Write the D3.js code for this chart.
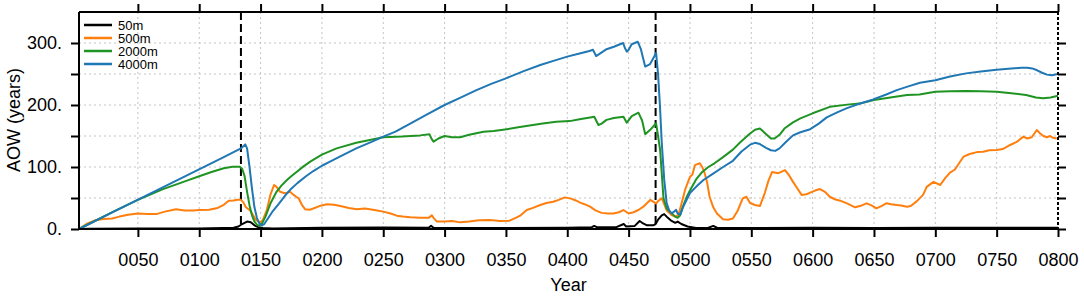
<!DOCTYPE html>
<html>
<head>
<meta charset="utf-8">
<script src="https://cdn.jsdelivr.net/npm/d3@7"></script>
<style>
  html, body { margin: 0; padding: 0; background: #fff; }
  svg { display: block; font-family: "Liberation Sans", Arial, sans-serif; }
</style>
</head>
<body>
<div id="chart"></div>
<script>
// ── AOW at four depths ──────────────────────────────────────────────────────
// Values (years, AOW in years).

const seriesNames = ['50m', '500m', '2000m', '4000m'];
const seriesColors = ['#000000', '#ff7f0e', '#1f9423', '#1f77b4'];

const years50 = [2, 10, 50, 100, 128, 132, 135, 139, 142, 145, 148, 152, 160, 200, 250, 287, 289, 291, 320, 350, 400, 420, 422, 424, 440, 446, 448, 455, 459, 461, 465, 470, 472, 474, 477, 479, 482, 485, 488, 490, 493, 498, 505, 515, 519, 522, 540, 600, 650, 700, 750, 800];
const aow50 = [0, 0.5, 0.8, 1, 2, 4, 8, 12, 11, 6, 3, 1.5, 1, 2, 2.5, 2, 5, 2, 1.5, 1.5, 2, 3, 5, 3, 3, 8, 4, 5, 13, 10, 6, 6, 8, 15, 22, 24, 18, 13, 10, 12, 8, 4, 1.5, 2, 5, 2, 1.5, 2, 1.5, 2, 2, 2];

const years500 = [2, 8, 15, 22, 29, 35, 42, 50, 58, 65, 72, 81, 88, 95, 100, 108, 115, 120, 124, 128, 131, 134, 136, 138, 141.5, 144, 146, 148.3, 150, 152, 155, 158, 161, 163, 166, 169, 171.5, 174, 177, 179, 181, 184, 186.4, 190, 193, 198, 204, 210, 215, 222, 228.5, 235, 239, 245, 250, 256, 261, 266, 272, 280, 287, 289.6, 291, 293.7, 300, 306, 312.7, 320, 328, 337, 345, 353, 358, 362, 367, 372, 378, 383, 388.5, 393, 398, 403, 407, 410.5, 414, 418.6, 423, 428, 433, 437.6, 442, 445.8, 450, 454, 458, 462, 467.6, 470, 472.4, 474, 477, 479, 481, 485, 488, 490.6, 493, 496, 500, 502, 504, 508, 510, 512, 514, 516, 519, 522, 527, 531, 535, 539, 543, 546, 549, 553, 557, 561, 564, 567, 572, 577.5, 581, 584, 588, 591, 595, 598, 602, 606, 610, 614, 618, 622.5, 628, 634.6, 640, 644, 648, 652, 656, 660, 664, 668.6, 672, 677, 680, 685, 690, 693, 698.5, 704, 708, 712, 716, 720, 723, 728, 734, 739, 744, 750, 755, 761, 766, 771.8, 775, 778.6, 782.7, 785, 788, 791, 793.5, 796, 799];
const aow500 = [0, 8, 14, 16, 17, 20, 23, 25, 24, 24, 28, 32, 30, 30, 30.6, 31, 34, 39, 45.6, 46, 47, 47, 43, 35, 30, 22, 15, 12, 11, 15, 30, 55, 71, 68, 60, 58, 58.6, 60, 55, 52, 49.5, 38, 31.7, 31, 33, 37, 40, 39, 37, 34, 31.7, 33, 32, 30, 28, 25, 21.5, 20, 18.8, 18, 18, 22, 18, 12, 12, 13, 10.7, 12, 14, 14.5, 13, 13.4, 18, 22, 30.6, 34, 38.7, 42, 44, 47, 51, 49, 46, 42.5, 40, 36, 30, 26, 25, 25, 27, 30.6, 25, 27, 30.6, 36, 46.8, 44, 41, 45, 49.5, 40, 30, 22.6, 20, 22.6, 40, 63, 84, 88, 103, 106, 100, 90, 75, 52, 35, 25, 15.6, 15, 17, 30, 49.5, 52, 42, 38.7, 37, 58, 78, 92, 90, 95, 86, 76, 64, 55, 56, 58.6, 62, 64.5, 60, 52, 48, 45.7, 41.4, 35, 38, 41.4, 38, 33.3, 37, 41.4, 40, 38.7, 38, 36, 37, 45, 55, 68, 76, 71, 82, 91, 96, 108, 116.6, 121, 124, 124.7, 127, 127.4, 129, 135.5, 140, 149, 146, 148, 159.7, 155, 150, 148, 150, 147, 146];

const years2000 = [2, 30, 50, 70, 90, 100, 110, 120, 127, 133, 135, 137, 139, 141, 143, 145, 147, 149, 151, 154, 158, 163, 167, 171.5, 175, 179.6, 185, 190.5, 200, 212, 228, 240, 250, 265, 280, 287.7, 289.5, 291, 295, 300, 306, 312.7, 320, 331.7, 340, 350.7, 360, 372, 380, 391, 402, 410, 418.6, 422, 425.4, 428, 432, 438, 445.8, 448.5, 452.6, 458, 461, 463.5, 467.6, 472.4, 474, 475.7, 477, 478.4, 481, 483.8, 487.9, 490, 492, 494, 497.4, 500, 505, 510, 515, 520, 527, 535, 541, 549, 553, 557, 561, 566, 569, 573, 577, 584, 590, 600, 614, 630, 640, 650, 666, 677, 687, 700, 712, 725, 737, 750, 762, 774, 782, 788, 794, 800];
const aow2000 = [0, 28, 47, 64, 78, 85, 92, 98, 100.5, 100.5, 97, 85, 60, 38, 22, 12, 7, 5, 8, 20, 41, 60, 70, 79, 85, 92.5, 101, 108.6, 120, 130, 139, 144, 148, 149, 151, 152.7, 145, 140.8, 146, 150, 148, 148, 152, 157, 158, 161, 164, 167.7, 170, 173, 174, 177, 180, 181, 167.7, 170, 176, 179, 181, 171.5, 182, 187.6, 175, 153, 160, 170.5, 150, 127, 90, 50, 33, 28, 20, 18, 22, 35, 52, 62, 80, 92, 100, 106, 116, 128, 140, 154, 160, 162, 155, 146, 146, 152, 162, 172, 178.5, 186.6, 197, 201, 203, 208, 213, 216, 217, 221.5, 222, 222.6, 222, 221.5, 219, 216, 212, 210.8, 212, 215];

const years4000 = [2, 30, 60, 90, 120, 134, 137.5, 139, 141, 143, 145, 147, 149, 151, 153, 156, 160, 165, 170, 175, 180, 187, 193, 200, 207, 215, 228, 240, 250, 260, 272, 285, 300, 313, 326, 338, 350, 365, 378, 390, 400, 410, 418, 421, 423.5, 426, 432, 438, 445.5, 447, 448.5, 450, 452.5, 457.5, 460, 463.5, 467.5, 470, 472.4, 474, 475.5, 477, 479, 481, 483, 485, 487, 488.7, 490, 492, 495, 500, 505, 511, 518, 527, 535, 542, 549, 553, 557, 562, 566, 569.5, 573, 578, 584, 590, 598, 605, 611.5, 620, 628, 638, 649.5, 660, 668.6, 678, 687.5, 700, 712, 725, 737, 750, 762, 770, 775, 779, 783, 787, 791, 795, 800];
const aow4000 = [0, 27.5, 57, 86.5, 116, 130, 136.5, 130, 100, 65, 35, 18, 9, 6, 8, 17, 29, 41, 54, 65, 74, 85, 93.5, 102, 109, 117, 130, 140, 149, 157, 170, 184, 200, 212, 224, 234, 243, 255, 264.5, 272, 278, 283, 287, 289, 279, 282, 290, 294, 300, 292, 286, 289, 298, 302, 290, 262, 266, 275, 284, 250, 200, 140, 80, 42, 30, 25, 28, 31, 25, 23, 38, 58, 68, 79, 88, 100, 110, 125, 136, 139, 137, 131, 127, 126, 130, 140, 151, 156, 161, 170, 180, 188, 195, 202, 209, 217, 224, 230, 236, 240, 246, 251, 254, 257, 259, 260, 260, 259, 256, 252, 249, 248, 250];

const eventYears = [134, 472];
const xTickYears = [50, 100, 150, 200, 250, 300, 350, 400, 450, 500, 550, 600, 650, 700, 750, 800];
const yTickVals = [0, 50, 100, 150, 200, 250, 300];
const yLabelVals = [0, 100, 200, 300];

const seriesData = [
  { name: seriesNames[0], years: years50,   vals: aow50 },
  { name: seriesNames[1], years: years500,  vals: aow500 },
  { name: seriesNames[2], years: years2000, vals: aow2000 },
  { name: seriesNames[3], years: years4000, vals: aow4000 },
];

// ── Layout ──────────────────────────────────────────────────────────────────
const W = 1084, H = 296;
const M = { top: 12, right: 26, bottom: 67, left: 79 };
const iw = W - M.left - M.right;
const ih = H - M.top - M.bottom;

const x = d3.scaleLinear().domain([2, 800]).range([0, iw]);
const y = d3.scaleLinear().domain([0, 350]).range([ih, 0]);

const svg = d3.select('#chart').append('svg').attr('width', W).attr('height', H);
const g = svg.append('g').attr('transform', `translate(${M.left},${M.top})`);

// ── Grid ────────────────────────────────────────────────────────────────────
g.selectAll('.gy').data(yTickVals.filter(v => v > 0)).join('line')
  .attr('x1', 0).attr('x2', iw)
  .attr('y1', d => y(d)).attr('y2', d => y(d))
  .attr('stroke', '#c4c4c4').attr('stroke-width', 1).attr('stroke-dasharray', '2,3');

g.selectAll('.gx').data(xTickYears.filter(v => v < 800)).join('line')
  .attr('x1', d => x(d)).attr('x2', d => x(d))
  .attr('y1', 0).attr('y2', ih)
  .attr('stroke', '#c4c4c4').attr('stroke-width', 1).attr('stroke-dasharray', '2,3');

// ── Event markers ───────────────────────────────────────────────────────────
g.selectAll('.ev').data(eventYears).join('line')
  .attr('x1', d => x(d)).attr('x2', d => x(d))
  .attr('y1', 0).attr('y2', ih)
  .attr('stroke', '#000').attr('stroke-width', 2).attr('stroke-dasharray', '8,4');

// ── Lines ───────────────────────────────────────────────────────────────────
const line = d3.line().x(d => x(d[0])).y(d => y(d[1]));
seriesData.forEach((s, i) => {
  g.append('path')
    .datum(s.years.map((yr, k) => [yr, s.vals[k]]))
    .attr('fill', 'none')
    .attr('stroke', seriesColors[i])
    .attr('stroke-width', 2)
    .attr('stroke-linejoin', 'round')
    .attr('d', line);
});

// ── Axes ────────────────────────────────────────────────────────────────────
const styleAxis = a => {
  a.select('.domain').remove();
  a.selectAll('.tick line').attr('stroke', '#000').attr('stroke-width', 2);
};

g.append('g').attr('transform', `translate(0,${ih})`)
  .call(d3.axisBottom(x).tickValues(xTickYears).tickSize(8).tickPadding(16)
    .tickFormat(d => String(d).padStart(4, '0')))
  .call(styleAxis)
  .call(a => a.selectAll('text').attr('font-size', 18).attr('fill', '#000')
    .attr('font-family', '"Liberation Sans", Arial, sans-serif'));

g.append('g')
  .call(d3.axisTop(x).tickValues(xTickYears).tickSize(8).tickFormat(''))
  .call(styleAxis);

g.append('g')
  .call(d3.axisLeft(y).tickValues(yTickVals).tickSize(8).tickPadding(9)
    .tickFormat(d => yLabelVals.includes(d) ? d + '.' : ''))
  .call(styleAxis)
  .call(a => a.selectAll('text').attr('font-size', 18).attr('fill', '#000')
    .attr('font-family', '"Liberation Sans", Arial, sans-serif'));

g.append('g').attr('transform', `translate(${iw},0)`)
  .call(d3.axisRight(y).tickValues(yTickVals).tickSize(8).tickFormat(''))
  .call(styleAxis);

// frame
g.append('line').attr('x1', 0).attr('x2', iw).attr('y1', 0).attr('y2', 0)
  .attr('stroke', '#000').attr('stroke-width', 2);
g.append('line').attr('x1', 0).attr('x2', iw).attr('y1', ih).attr('y2', ih)
  .attr('stroke', '#000').attr('stroke-width', 2);
g.append('line').attr('x1', 0).attr('x2', 0).attr('y1', 0).attr('y2', ih)
  .attr('stroke', '#000').attr('stroke-width', 2);
g.append('line').attr('x1', iw).attr('x2', iw).attr('y1', 0).attr('y2', ih)
  .attr('stroke', '#000').attr('stroke-width', 2).attr('stroke-dasharray', '3,2');

// ── Axis labels ─────────────────────────────────────────────────────────────
svg.append('text')
  .attr('x', M.left + iw / 2).attr('y', 291)
  .attr('text-anchor', 'middle').attr('font-size', 18)
  .text('Year');

svg.append('text')
  .attr('transform', 'rotate(-90)')
  .attr('x', -(M.top + 108)).attr('y', 20)
  .attr('text-anchor', 'middle').attr('font-size', 18)
  .text('AOW (years)');

// ── Legend ──────────────────────────────────────────────────────────────────
const leg = svg.append('g').attr('transform', 'translate(84,25)');
seriesNames.forEach((name, i) => {
  const row = leg.append('g').attr('transform', `translate(0,${i * 13})`);
  row.append('line').attr('x1', 0).attr('x2', 28).attr('y1', 0).attr('y2', 0)
    .attr('stroke', seriesColors[i]).attr('stroke-width', 2.5);
  row.append('text').attr('x', 34).attr('y', 0).attr('dy', '0.35em')
    .attr('font-size', 13).text(name);
});
</script>
</body>
</html>
